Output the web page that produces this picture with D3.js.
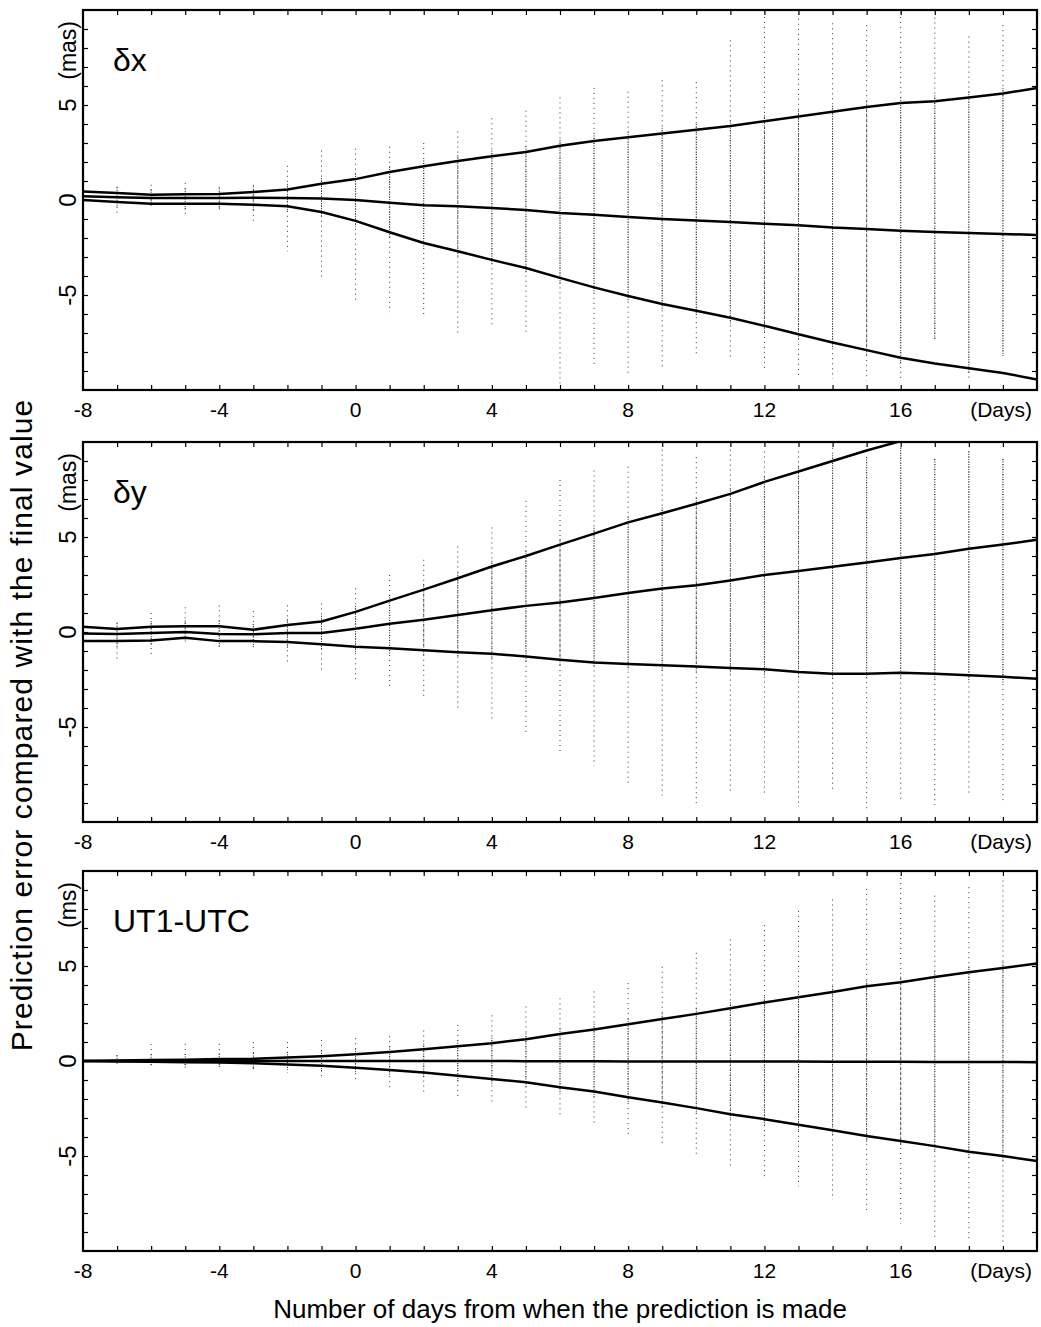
<!DOCTYPE html>
<html>
<head>
<meta charset="utf-8">
<script src="https://cdn.jsdelivr.net/npm/d3@7"></script>
<style>
  body { margin: 0; background: #fff; }
  svg { display: block; font-family: "Liberation Sans", Arial, Helvetica, sans-serif; }
</style>
</head>
<body>
<div id="chart"></div>
<script>
// ---------- data ----------
const days = d3.range(-8, 21); // -8 .. 20
const scatterDays = d3.range(-8, 20); // -8 .. 19

// dX (mas)
const dxUpper = [0.45, 0.37, 0.27, 0.3, 0.32, 0.42, 0.55, 0.85, 1.1, 1.47, 1.78, 2.05, 2.3, 2.53, 2.85, 3.1, 3.3, 3.5, 3.7, 3.9, 4.15, 4.4, 4.65, 4.9, 5.1, 5.2, 5.4, 5.6, 5.9];
const dxMid = [0.2, 0.15, 0.1, 0.1, 0.1, 0.12, 0.1, 0.08, 0.0, -0.15, -0.27, -0.33, -0.42, -0.53, -0.68, -0.77, -0.9, -1.0, -1.08, -1.16, -1.25, -1.33, -1.45, -1.53, -1.62, -1.68, -1.74, -1.79, -1.84];
const dxLower = [0.0, -0.1, -0.2, -0.2, -0.2, -0.25, -0.33, -0.63, -1.1, -1.7, -2.26, -2.7, -3.15, -3.58, -4.1, -4.6, -5.05, -5.47, -5.83, -6.2, -6.62, -7.07, -7.5, -7.9, -8.3, -8.6, -8.85, -9.1, -9.45];
const dxScatterMax = [0.5, 0.7, 0.8, 0.9, 0.7, 0.8, 1.8, 2.6, 2.7, 2.8, 3.0, 3.6, 4.3, 4.7, 5.4, 5.9, 5.7, 6.3, 6.2, 8.4, 9.9, 9.8, 9.3, 9.2, 9.9, 9.6, 8.6, 9.2];
const dxScatterMin = [-0.3, -0.7, -0.3, -0.8, -0.5, -1.1, -2.7, -4.2, -5.3, -5.9, -6.0, -7.0, -6.6, -7.1, -9.7, -8.7, -9.2, -8.8, -8.2, -8.4, -9.0, -9.3, -9.4, -9.5, -9.5, -7.4, -9.5, -8.2];

// dY (mas)
const dyUpper = [0.27, 0.16, 0.27, 0.3, 0.3, 0.12, 0.37, 0.55, 1.06, 1.65, 2.23, 2.83, 3.45, 4.0, 4.6, 5.18, 5.77, 6.25, 6.75, 7.27, 7.9, 8.45, 9.0, 9.55, 10.05, 10.6, 11.1, 11.6, 12.1];
const dyMid = [-0.08, -0.1, -0.05, 0.0, -0.1, -0.12, -0.05, -0.05, 0.17, 0.44, 0.65, 0.9, 1.15, 1.375, 1.55, 1.79, 2.05, 2.29, 2.46, 2.71, 3.0, 3.21, 3.43, 3.66, 3.89, 4.1, 4.38, 4.6, 4.86];
const dyLower = [-0.48, -0.48, -0.45, -0.3, -0.48, -0.48, -0.53, -0.65, -0.78, -0.86, -0.96, -1.06, -1.15, -1.29, -1.46, -1.6, -1.68, -1.75, -1.82, -1.89, -1.96, -2.1, -2.2, -2.2, -2.14, -2.2, -2.27, -2.36, -2.46];
const dyScatterMax = [0.5, 0.5, 1.0, 1.3, 1.4, 1.1, 1.4, 1.5, 2.3, 3.0, 3.8, 4.5, 5.5, 6.9, 8.0, 8.5, 8.7, 9.6, 9.2, 9.6, 9.5, 9.5, 9.7, 9.2, 9.7, 9.1, 9.5, 9.1];
const dyScatterMin = [-0.5, -1.6, -1.3, -0.5, -0.9, -1.0, -1.7, -2.0, -2.7, -3.0, -3.5, -4.1, -4.7, -5.4, -6.4, -7.05, -8.0, -8.6, -9.2, -8.5, -8.6, -9.2, -8.4, -9.3, -8.9, -9.1, -8.5, -8.9];

// UT1-UTC (ms)
const utUpper = [0.0, 0.02, 0.05, 0.07, 0.1, 0.12, 0.18, 0.25, 0.35, 0.48, 0.62, 0.78, 0.93, 1.15, 1.42, 1.66, 1.93, 2.21, 2.48, 2.78, 3.08, 3.35, 3.63, 3.93, 4.14, 4.42, 4.67, 4.9, 5.13];
const utMid = [0, 0, 0, 0, 0, 0, 0, 0, 0, 0, 0, 0, 0, -0.01, -0.01, -0.01, -0.02, -0.02, -0.02, -0.03, -0.03, -0.03, -0.04, -0.04, -0.04, -0.05, -0.05, -0.05, -0.06];
const utLower = [0.0, -0.02, -0.04, -0.06, -0.08, -0.12, -0.18, -0.25, -0.35, -0.47, -0.6, -0.78, -0.95, -1.12, -1.38, -1.61, -1.91, -2.18, -2.48, -2.8, -3.06, -3.36, -3.65, -3.95, -4.21, -4.48, -4.78, -5.0, -5.27];
const utScatterMax = [0.1, 0.3, 0.9, 0.9, 0.9, 1.0, 1.0, 1.1, 1.2, 1.3, 1.6, 1.9, 2.4, 2.87, 3.3, 3.66, 4.1, 4.96, 5.7, 6.4, 7.15, 7.9, 8.5, 9.06, 9.63, 8.7, 9.15, 9.5];
const utScatterMin = [-0.1, -0.2, -0.3, -0.4, -0.4, -0.5, -0.6, -0.8, -1.0, -1.4, -1.7, -2.0, -2.3, -2.58, -2.97, -3.4, -3.95, -4.48, -5.0, -5.54, -6.12, -6.6, -7.3, -7.9, -8.55, -9.26, -9.35, -9.5];

const xTickLabels = [-8, -4, 0, 4, 8, 12, 16];
const yTickLabels = [-5, 0, 5];
const panelNames = ["δx", "δy", "UT1-UTC"];
const panelUnits = ["(mas)", "(mas)", "(ms)"];

// ---------- layout ----------
const W = 1041, H = 1327;
const panelTops = [10, 442, 871];
const panelH = 380;

const panels = [
  { name: panelNames[0], unit: panelUnits[0], upper: dxUpper, mid: dxMid, lower: dxLower, sMax: dxScatterMax, sMin: dxScatterMin },
  { name: panelNames[1], unit: panelUnits[1], upper: dyUpper, mid: dyMid, lower: dyLower, sMax: dyScatterMax, sMin: dyScatterMin },
  { name: panelNames[2], unit: panelUnits[2], upper: utUpper, mid: utMid, lower: utLower, sMax: utScatterMax, sMin: utScatterMin }
];

const svg = d3.select("#chart").append("svg")
  .attr("width", W).attr("height", H)
  .attr("viewBox", `0 0 ${W} ${H}`);

const x = d3.scaleLinear().domain([-8, 20]).range([83, 1037]);

panels.forEach((p, i) => {
  const top = panelTops[i];
  const y = d3.scaleLinear().domain([-10, 10]).range([top + panelH, top]);
  const g = svg.append("g");

  const clipId = "clip" + i;
  svg.append("clipPath").attr("id", clipId)
    .append("rect")
    .attr("x", x(-8)).attr("y", top)
    .attr("width", x(20) - x(-8)).attr("height", panelH);

  const plot = g.append("g").attr("clip-path", `url(#${clipId})`);

  // scatter columns: sparse outer part, denser inside the band
  const lowerAt = (d) => p.lower[days.indexOf(d)];
  const upperAt = (d) => p.upper[days.indexOf(d)];

  plot.selectAll(".outer")
    .data(scatterDays)
    .enter().append("line")
    .attr("x1", (d) => x(d)).attr("x2", (d) => x(d))
    .attr("y1", (d, j) => y(p.sMax[j])).attr("y2", (d, j) => y(p.sMin[j]))
    .attr("stroke", "#333").attr("stroke-width", 1)
    .attr("stroke-dasharray", "1 4");

  plot.selectAll(".inner")
    .data(scatterDays)
    .enter().append("line")
    .attr("x1", (d) => x(d)).attr("x2", (d) => x(d))
    .attr("y1", (d) => y(Math.min(upperAt(d) + 0.3, p.sMax[scatterDays.indexOf(d)])))
    .attr("y2", (d) => y(Math.max(lowerAt(d) - 0.3, p.sMin[scatterDays.indexOf(d)])))
    .attr("stroke", "#222").attr("stroke-width", 1)
    .attr("stroke-dasharray", "1 1.5");

  // curves
  const line = d3.line().x((d) => x(d[0])).y((d) => y(d[1]));
  [p.upper, p.mid, p.lower].forEach((vals) => {
    plot.append("path")
      .datum(days.map((d, j) => [d, vals[j]]))
      .attr("d", line)
      .attr("fill", "none")
      .attr("stroke", "#000")
      .attr("stroke-width", 2.5)
      .attr("stroke-linejoin", "round");
  });

  // inward ticks on all four sides
  const xTicks = d3.range(-7, 20);
  const yTicks = d3.range(-9, 10);
  g.append("g").attr("transform", `translate(0,${top + panelH})`)
    .call(d3.axisBottom(x).tickValues(xTicks).tickSize(-5).tickFormat(""));
  g.append("g").attr("transform", `translate(0,${top})`)
    .call(d3.axisTop(x).tickValues(xTicks).tickSize(-5).tickFormat(""));
  g.append("g").attr("transform", `translate(${x(-8)},0)`)
    .call(d3.axisLeft(y).tickValues(yTicks).tickSize(-5).tickFormat(""));
  g.append("g").attr("transform", `translate(${x(20)},0)`)
    .call(d3.axisRight(y).tickValues(yTicks).tickSize(-5).tickFormat(""));
  g.selectAll(".domain").remove();
  g.selectAll(".tick line").attr("stroke", "#000").attr("stroke-width", 1.2);

  // frame
  g.append("rect")
    .attr("x", x(-8)).attr("y", top)
    .attr("width", x(20) - x(-8)).attr("height", panelH)
    .attr("fill", "none").attr("stroke", "#000").attr("stroke-width", 2.2);

  // x tick labels
  g.selectAll(".xl")
    .data(xTickLabels)
    .enter().append("text")
    .attr("x", (d) => x(d)).attr("y", top + panelH + 27)
    .attr("text-anchor", "middle")
    .attr("font-size", 21)
    .text((d) => String(d));
  g.append("text")
    .attr("x", 1032).attr("y", top + panelH + 27)
    .attr("text-anchor", "end")
    .attr("font-size", 21)
    .text("(Days)");

  // y tick labels (rotated)
  g.selectAll(".yl")
    .data(yTickLabels)
    .enter().append("text")
    .attr("transform", (d) => `translate(76,${y(d)}) rotate(-90)`)
    .attr("text-anchor", "middle")
    .attr("font-size", 24)
    .text((d) => String(d));
  g.append("text")
    .attr("transform", `translate(76,${top + 11}) rotate(-90)`)
    .attr("text-anchor", "end")
    .attr("font-size", 23)
    .text(p.unit);

  // panel name
  g.append("text")
    .attr("x", 113).attr("y", top + 61)
    .attr("font-size", 32)
    .text(p.name);
});

// axis titles
svg.append("text")
  .attr("transform", "translate(32,725) rotate(-90)")
  .attr("text-anchor", "middle")
  .attr("font-size", 30)
  .attr("letter-spacing", 1.1)
  .text("Prediction error compared with the final value");

svg.append("text")
  .attr("x", 560).attr("y", 1318)
  .attr("text-anchor", "middle")
  .attr("font-size", 26)
  .text("Number of days from when the prediction is made");
</script>
</body>
</html>
